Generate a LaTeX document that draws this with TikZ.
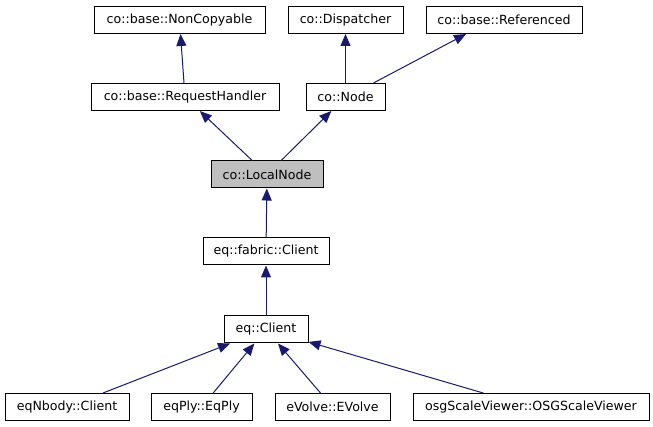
\documentclass[tikz,border=0pt]{standalone}
\usepackage{fontspec}
\setmainfont{DejaVu Sans}
\usetikzlibrary{arrows.meta}
\definecolor{edgeblue}{HTML}{191970}
\definecolor{curgray}{HTML}{BFBFBF}

\begin{document}
\begin{tikzpicture}[x=1pt, y=-1pt,
          cls/.style={draw=black, line width=1pt, minimum height=27pt,
            inner sep=0pt, font=\fontsize{12.6}{15}\selectfont},
          inherit/.style={draw=edgeblue, line width=1pt,
            -{Triangle[length=12pt, width=10pt]}},
        ]
          \useasboundingbox (0,0) rectangle (653,427);
          % top row
          \node[cls, minimum width=171pt] (nc)  at (179.5, 20) {co::base::NonCopyable};
          \node[cls, minimum width=115pt] (dsp) at (345.5, 20) {co::Dispatcher};
          \node[cls, minimum width=156pt] (ref) at (504,   20) {co::base::Referenced};
          % second row
          \node[cls, minimum width=188pt] (rh)  at (185,   97) {co::base::RequestHandler};
          \node[cls, minimum width=79pt]  (nd)  at (345.5, 97) {co::Node};
          % middle column
          \node[cls, minimum width=112pt, fill=curgray] (ln) at (267, 174.5) {co::LocalNode};
          \node[cls, minimum width=126pt] (fc)  at (266, 251.5) {eq::fabric::Client};
          \node[cls, minimum width=84pt]  (ec)  at (266, 329.5) {eq::Client};
          % bottom row
          \node[cls, minimum width=124pt] (nb)  at (67,    407) {eqNbody::Client};
          \node[cls, minimum width=101pt] (ply) at (201.5, 407) {eqPly::EqPly};
          \node[cls, minimum width=115pt] (ev)  at (332.5, 407) {eVolve::EVolve};
          \node[cls, minimum width=236pt] (osg) at (531,   407) {osgScaleViewer::OSGScaleViewer};
          \draw[inherit] (rh) -- (nc);
          \draw[inherit] (nd) -- (dsp);
          \draw[inherit] ([xshift=28pt]nd.north) -- ([xshift=-38pt]ref.south);
          \draw[inherit] (ln) -- (rh);
          \draw[inherit] (ln) -- (nd);
          \draw[inherit] (fc) -- (ln);
          \draw[inherit] (ec) -- (fc);
          \draw[inherit] (nb)  -- (ec);
          \draw[inherit] (ply) -- (ec);
          \draw[inherit] (ev)  -- (ec);
          \draw[inherit] (osg) -- (ec);
        \end{tikzpicture}
\end{document}
